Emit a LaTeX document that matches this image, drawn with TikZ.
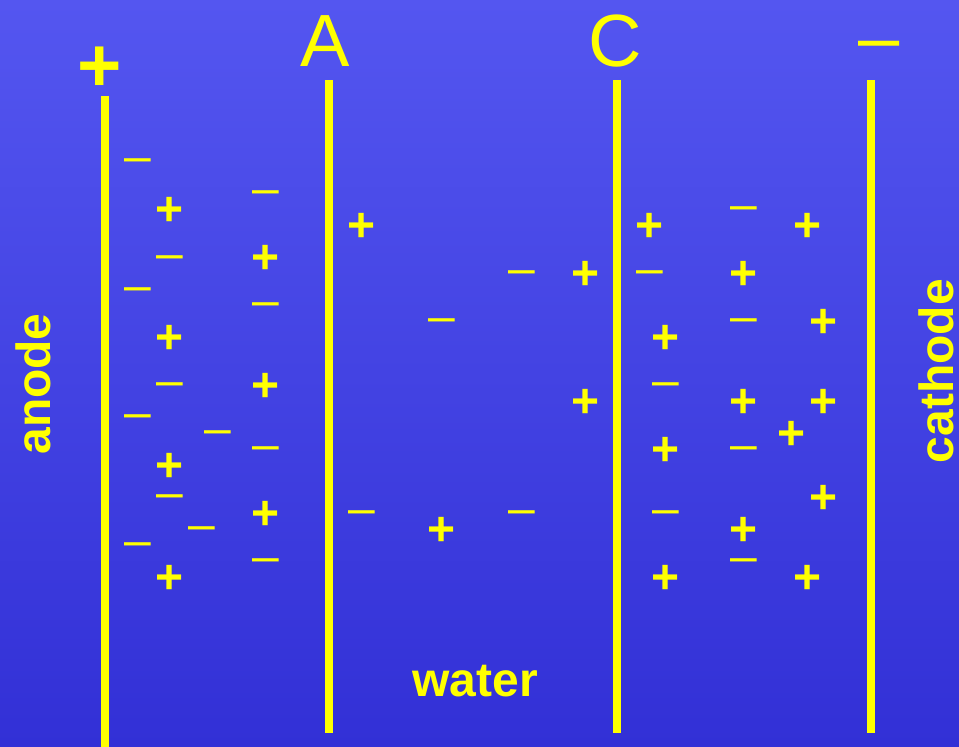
\documentclass[tikz,border=0pt]{standalone}
\usepackage{fontspec}
\setmainfont{Liberation Sans}
\usetikzlibrary{positioning}
\definecolor{monJaune}{RGB}{255,255,0}
\definecolor{fondHaut}{RGB}{84,86,240}
\definecolor{fondBas}{RGB}{50,48,214}

\begin{document}
\begin{tikzpicture}[x=1pt,y=-1pt,
        electrode/.style={monJaune, line width=8pt},
        ionplus/.style={monJaune, inner sep=0pt, anchor=base, font=\fontsize{48}{50}\selectfont\bfseries},
        ionmoins/.style={monJaune, inner sep=0pt, anchor=base, font=\fontsize{48}{50}\selectfont},
        etiquette/.style={monJaune, inner sep=0pt, anchor=base, font=\fontsize{48}{50}\selectfont\bfseries},
        borne/.style={monJaune, inner sep=0pt, anchor=base, font=\fontsize{74}{76}\selectfont}]
        % Fond
        \shade[top color=fondHaut, bottom color=fondBas] (0,0) rectangle (959,747);
        \useasboundingbox (0,0) rectangle (959,747);
        
        % Electrodes et membranes
        \draw[electrode] (104.5,96) -- (104.5,747);
        \draw[electrode] (328.5,80) -- (328.5,733);
        \draw[electrode] (616.5,80) -- (616.5,733);
        \draw[electrode] (871,80) -- (871,733);
        
        % Bornes et noms
        \node[borne, font=\fontsize{76}{78}\selectfont\bfseries] (bplus) at (100,91) {+};
        \node[borne] (bmoins) at (879,62.5) {\textendash};
        \node[borne] (nA) at (325,66) {A};
        \node[borne] (nC) at (615.5,66) {C};
        \node[etiquette, rotate=90] (anode) at (50,384) {anode};
        \node[etiquette, rotate=90] (cathode) at (953,371) {cathode};
        \node[etiquette] (eau) at (475,696) {water};
        
        % Ions positifs
        \foreach \x/\y [count=\i] in {170/208, 266/256, 170/336, 266/384, 170/464, 266/512, 170/576,
                362/224, 586/272, 586/400, 442/528,
                650/224, 808/224, 744/272, 824/320, 666/336, 744/400, 824/400, 792/432,
                666/448, 824/496, 744/528, 666/576, 808/576}
            \node[ionplus] (p\i) at (\x,\y+17) {+};
        
        % Ions negatifs
        \foreach \x/\y [count=\i] in {138/160, 266/192, 170/257, 138/289, 266/304, 170/384, 138/416,
                218/432, 266/448, 170/496, 202/528, 138/544, 266/560,
                522/272, 442/320, 362/512, 522/512,
                744/208, 650/272, 744/320, 666/384, 744/448, 666/512, 744/560}
            \node[ionmoins] (m\i) at (\x,\y+12.5) {\textendash};
    \end{tikzpicture}
\end{document}
